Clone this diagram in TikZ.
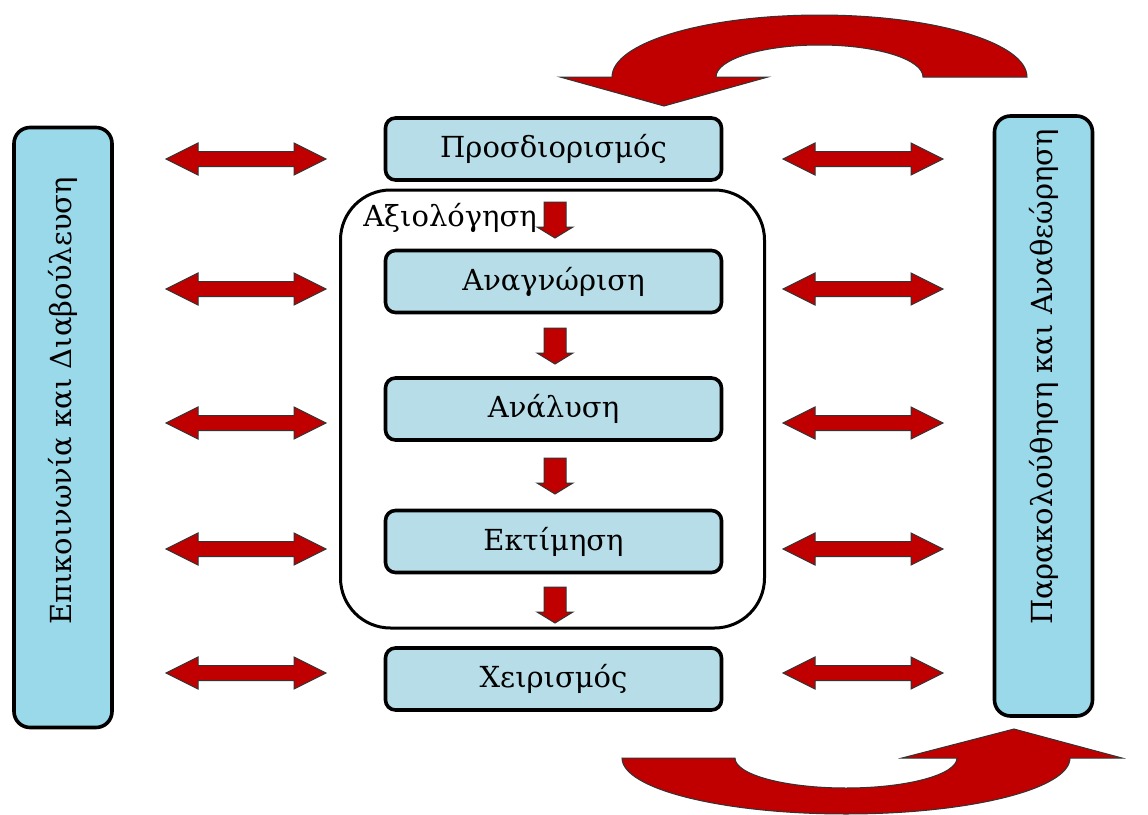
\documentclass[tikz,border=0pt]{standalone}
\usepackage{fontspec}
\setmainfont{DejaVu Serif}
\definecolor{arrowred}{HTML}{C00000}
\definecolor{sideblue}{HTML}{99D9EA}
\definecolor{stepblue}{HTML}{B7DEE8}
\newcommand{\boxfont}{\fontsize{14.5}{17}\selectfont}
\tikzset{
  redfill/.style={draw=black!80, line width=0.5pt, fill=arrowred, line join=miter},
  stepbox/.style={draw=black, line width=1.8pt, fill=stepblue, rounded corners=5pt,
    minimum width=168pt, minimum height=31pt, font=\boxfont},
  sidebox/.style={draw=black, line width=1.8pt, fill=sideblue, rounded corners=8pt,
    minimum width=49pt, minimum height=300pt},
  sidelbl/.style={rotate=90, font=\boxfont, inner sep=0pt},
  bothways/.pic={
    \path[redfill] (-80,0) -- (-48,-16) -- (-48,-7.5) -- (48,-7.5) -- (48,-16)
      -- (80,0) -- (48,16) -- (48,7.5) -- (-48,7.5) -- (-48,16) -- cycle;
  },
  redarrow/.pic={
    \path[redfill] (-11,-36) -- (11,-36) -- (11,-11) -- (18,-11) -- (0,0)
      -- (-18,-11) -- (-11,-11) -- cycle;
  }
}
\begin{document}
\begin{tikzpicture}[x=0.5pt, y=-0.5pt, line cap=round, line join=round]
	\useasboundingbox (0,0) rectangle (1148,815);

	%Assessment frame
	\node[draw=black, line width=1.5pt, rounded corners=25pt, minimum width=212pt, minimum height=219pt] (assess) at (552.5,409) {};
	\node[font=\boxfont, inner sep=0pt] (assesslbl) at (450,218) {Αξιολόγηση};

	%Steps
	\node[stepbox] (defn)  at (553.5,149)   {Προσδιορισμός};
	\node[stepbox] (ident) at (553.5,281.5) {Αναγνώριση};
	\node[stepbox] (anal)  at (553.5,409)   {Ανάλυση};
	\node[stepbox] (estim) at (553.5,541.5) {Εκτίμηση};
	\node[stepbox] (handl) at (553.5,679)   {Χειρισμός};

	%Side boxes
	\node[sidebox] (comm)  at (63,427.5) {};
	\node[sidelbl] (commlbl) at (63,401) {Επικοινωνία και Διαβούλευση};
	\node[sidebox] (monit) at (1043.5,416) {};
	\node[sidelbl] (monitlbl) at (1043.5,377) {Παρακολούθηση και Αναθεώρηση};

	%Down arrows
	\foreach \y in {238,364,494,623}
		\pic at (555,\y) {redarrow};

	%Double arrows
	\foreach \y in {159,289,423,549,673} {
		\pic at (246,\y) {bothways};
		\pic at (863,\y) {bothways};
	}

	%Top curved arrow
	\path[redfill] (1027,77) arc[start angle=0, end angle=-180, x radius=207.5, y radius=62]
		-- (560,77) -- (664,106) -- (768,77) -- (716,77)
		arc[start angle=-180, end angle=0, x radius=103.5, y radius=32] -- cycle;

	%Bottom curved arrow
	\path[redfill] (622,758) arc[start angle=180, end angle=0, x radius=224, y radius=56]
		-- (1122,758) -- (1014,729) -- (902,758) -- (957,758)
		arc[start angle=0, end angle=180, x radius=111, y radius=30] -- cycle;
\end{tikzpicture}
\end{document}
